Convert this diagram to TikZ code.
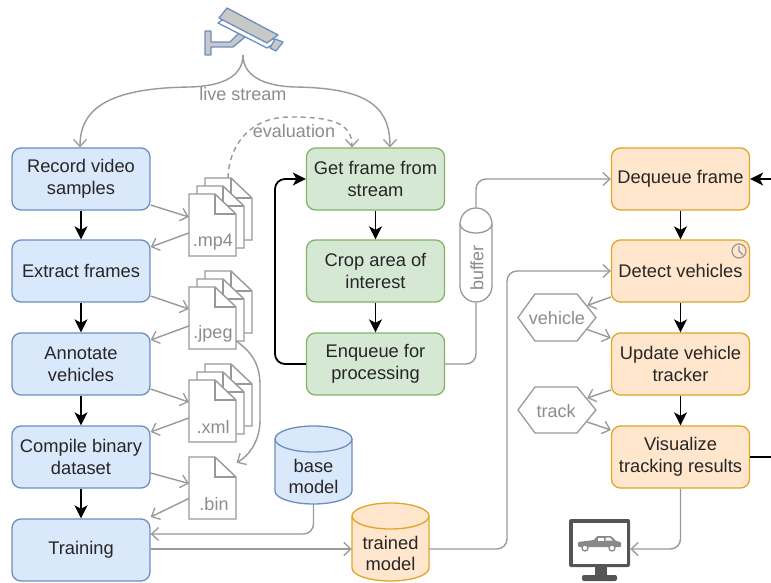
\documentclass[tikz,border=0pt]{standalone}
\usepackage{fontspec}
\setmainfont{Liberation Sans}
\usetikzlibrary{arrows.meta,calc}
\definecolor{bluef}{HTML}{DAE8FC}\definecolor{blued}{HTML}{6C8EBF}
\definecolor{greenf}{HTML}{D5E8D4}\definecolor{greend}{HTML}{82B366}
\definecolor{orangef}{HTML}{FFE6CC}\definecolor{oranged}{HTML}{E0A52A}
\definecolor{greyl}{HTML}{999999}\definecolor{greyt}{HTML}{8C8C8C}
\definecolor{inkt}{HTML}{262626}\definecolor{mon}{HTML}{555555}
\definecolor{camf}{HTML}{C8C8C8}
\tikzset{
  boxbase/.style={draw,rounded corners=9pt,line width=1.3pt,minimum width=138pt,minimum height=62pt,inner sep=0pt,align=center,text=inkt,font=\fontsize{18.3}{22}\selectfont},
  bluebox/.style={boxbase,fill=bluef,draw=blued},
  greenbox/.style={boxbase,fill=greenf,draw=greend},
  orangebox/.style={boxbase,fill=orangef,draw=oranged},
  greyarrow/.style={draw=greyl,line width=1.4pt,-{Straight Barb[length=7pt,width=13pt,line width=1.3pt]}},
  greyline/.style={draw=greyl,line width=1.4pt},
  blackarrow/.style={draw=black,line width=1.8pt,-{Stealth[length=13pt,width=13pt,inset=3.5pt]}},
  greylabel/.style={text=greyt,font=\fontsize{18}{20}\selectfont,inner sep=0pt},
  fileholder/.style={minimum width=47pt,minimum height=62pt,inner sep=0pt},
  filepath/.style={draw=greyl,fill=white,line width=1.4pt,line join=miter},
  hexpath/.style={draw=greyl,fill=white,line width=1.3pt},
  cylnode/.style={minimum width=77pt,minimum height=78pt,inner sep=0pt},
  cyltext/.style={align=center,text=inkt,inner sep=0pt,font=\fontsize{18.3}{21}\selectfont}
}
\newcommand\onefile[2]{%
  \draw[filepath,shift={(#1,#2)}] (0,0) -- (26,0) -- (47,20) -- (47,62) -- (0,62) -- cycle;
  \draw[filepath,fill=none,shift={(#1,#2)}] (26,0) -- (26,20) -- (47,20);}
\newcommand\stackfile[2]{%
  \onefile{\the\numexpr#1+16\relax}{\the\numexpr#2-16\relax}%
  \onefile{\the\numexpr#1+8\relax}{\the\numexpr#2-8\relax}%
  \onefile{#1}{#2}}
\newcommand\cylshape[6]{% x1 x2 y1 y2 fill draw
  \draw[fill=#5,draw=#6,line width=1.3pt] (#1,#3+13) arc[start angle=180,end angle=0,x radius=38.5pt,y radius=13pt]
     -- (#2,#4-13) arc[start angle=0,end angle=-180,x radius=38.5pt,y radius=13pt] -- cycle;
  \draw[draw=#6,line width=1.3pt] (#1,#3+13) arc[start angle=180,end angle=360,x radius=38.5pt,y radius=13pt];}
\begin{document}
\begin{tikzpicture}[x=1pt,y=-1pt]
\useasboundingbox (0,0) rectangle (771,583);
\fill[white] (0,0) rectangle (771,583);
% camera
\coordinate (cam) at (243,55);
\draw[fill=camf,draw=blued,line width=1.3pt,line join=round] (205,31) -- (211,31) -- (211,42) -- (230,42) -- (239,33) -- (245,37) -- (233,47) -- (211,47) -- (211,55) -- (205,55) -- cycle;
\draw[fill=white,draw=blued,line width=1.3pt,line join=round] (218,23) -- (267,48) -- (278,41) -- (270,38) -- (228,16) -- cycle;
\draw[fill=camf,draw=blued,line width=1.3pt,line join=round] (227,8) -- (278,35) -- (267,43) -- (219,18) -- cycle;
\draw[fill=camf,draw=blued,line width=1.3pt,line join=round] (275,39) -- (283,42) -- (276,51) -- (270,48) -- cycle;
% boxes
\node[bluebox] (rec) at (81,179) {Record video\\samples};
\node[bluebox] (ext) at (81,271) {\raisebox{-1pt}{Extract frames}};
\node[bluebox] (ann) at (81,364) {Annotate\\vehicles};
\node[bluebox] (com) at (81,457) {Compile binary\\dataset};
\node[bluebox] (tra) at (81,550) {\raisebox{-1pt}{Training}};
\node[greenbox] (get) at (375.5,179) {Get frame from\\stream};
\node[greenbox] (cro) at (375.5,271) {Crop area of\\interest};
\node[greenbox] (enq) at (375.5,364) {Enqueue for\\processing};
\node[orangebox] (deq) at (680.5,179) {\raisebox{-2pt}{Dequeue frame}};
\node[orangebox] (det) at (680.5,271) {\raisebox{-1pt}{Detect vehicles}};
\node[orangebox] (upd) at (680.5,364) {Update vehicle\\tracker};
\node[orangebox] (vis) at (680.5,457) {Visualize\\tracking results};
% clock
\draw[greyl,line width=1.2pt] (739,251) circle[radius=7pt];
\draw[greyl,line width=1.1pt] (739,246) -- (739,251) -- (743,255);
% files
\stackfile{189}{194}
\node[fileholder] (mp4) at (212.5,225) {};
\node[greylabel] at (213,242) {.mp4};
\stackfile{189}{287}
\node[fileholder] (jpg) at (212.5,318) {};
\node[greylabel] at (213,334) {.jpeg};
\stackfile{189}{380}
\node[fileholder] (xml) at (212.5,411) {};
\node[greylabel] at (213,427) {.xml};
\onefile{189}{457}
\node[fileholder] (bin) at (212.5,488) {};
\node[greylabel] at (214,504) {.bin};
% buffer
\node[draw=greyl,fill=white,line width=1.3pt,rounded corners=15.9pt,minimum width=32pt,minimum height=94pt,inner sep=0pt] (buf) at (476,255) {};
\draw[greyl,line width=1.3pt] (460,224) arc[start angle=180,end angle=360,x radius=16pt,y radius=9pt];
\node[greylabel,rotate=90] at (477,268) {buffer};
% cylinders
\cylshape{275}{352}{426}{504}{bluef}{blued}
\node[cylnode] (bas) at (313.5,465) {};
\node[cyltext] at (313.5,476) {base\\model};
\cylshape{352}{429}{503}{581}{orangef}{oranged}
\node[cylnode] (trn) at (390.5,542) {};
\node[cyltext] at (390.5,553) {trained\\model};
% hexagons
\node[minimum width=78pt,minimum height=47pt,inner sep=0pt] (veh) at (557,317.5) {};
\draw[hexpath] (518,317.5) -- (535,294) -- (577,294) -- (596,317.5) -- (577,341) -- (535,341) -- cycle;
\node[greylabel] at (557,318) {vehicle};
\node[minimum width=78pt,minimum height=47pt,inner sep=0pt] (trk) at (557,410) {};
\draw[hexpath] (518,410) -- (535,387) -- (577,387) -- (596,410) -- (577,433) -- (535,433) -- cycle;
\node[greylabel] at (556,411) {track};
% monitor
\node[minimum width=61pt,minimum height=48pt,inner sep=0pt] (scr) at (599.5,543) {};
\fill[mon,rounded corners=2pt] (569,519) rectangle (630,567);
\fill[white] (572.5,522.5) rectangle (626.5,563.5);
\fill[mon] (595,567) rectangle (607,576);
\fill[mon,rounded corners=2pt] (582,575) rectangle (617,581);
\fill[mon!70,rounded corners=1pt] (578,542) -- (594,540) -- (597,536) -- (611,536) -- (616,541) -- (621,542) -- (621,547) -- (578,547) -- cycle;
\fill[white] (598,537.5) rectangle (604,540.5);
\fill[white] (605.5,537.5) -- (610,537.5) -- (612.5,540.5) -- (605.5,540.5) -- cycle;
\draw[mon!70,fill=white,line width=1.3pt] (585,548) circle[radius=3pt];
\draw[mon!70,fill=white,line width=1.3pt] (612,548) circle[radius=3pt];
% labels
\node[greylabel] (live) at (243,94) {live stream};
\node[greylabel] (eval) at (294,131) {evaluation};
% grey connectors
\draw[greyarrow] (cam) .. controls (243,75) and (225,86) .. (190,87) .. controls (115,88) and (80,105) .. ([xshift=-1pt]rec.north);
\draw[greyarrow] (cam) .. controls (243,75) and (262,86) .. (295,87) .. controls (365,88) and (390,105) .. ([xshift=14.5pt]get.north);
\draw[greyarrow,dashed,dash pattern=on 5pt off 4pt] ([xshift=15.5pt,yshift=16pt]mp4.north) .. controls (229,145) and (250,117) .. (290,117) .. controls (330,117) and (352,122) .. ([xshift=-23.5pt]get.north);
\draw[greyarrow] ([yshift=-26pt]rec.east) -- ([yshift=8pt]mp4.west);
\draw[greyarrow] ([yshift=-8pt]mp4.west) -- ([yshift=24pt]ext.east);
\draw[greyarrow] ([yshift=-25pt]ext.east) -- ([yshift=9pt]jpg.west);
\draw[greyarrow] ([yshift=-8pt]jpg.west) -- ([yshift=24pt]ann.east);
\draw[greyarrow] ([yshift=-25pt]ann.east) -- ([yshift=9pt]xml.west);
\draw[greyarrow] ([yshift=-7pt]xml.west) -- ([yshift=25pt]com.east);
\draw[greyarrow] ([yshift=-16pt]com.east) -- ([yshift=4.5pt]bin.west);
\draw[greyarrow] ([yshift=-10.5pt]bin.west) -- ([yshift=33pt]tra.east);
\draw[greyarrow] ([yshift=-23pt]jpg.east) .. controls (252,352) and (260,365) .. (260,385) -- (260,420) .. controls (260,440) and (250,455) .. ([xshift=24pt,yshift=-6pt]bin.north);
\draw[greyarrow,rounded corners=10pt] (bas.south) -- (313.5,534) -- ([yshift=16pt]tra.east);
\draw[greyarrow] ([yshift=1pt]tra.east) -- ([yshift=-7pt]trn.west);
\draw[greyarrow,rounded corners=10pt] ([yshift=-7pt]trn.east) -- (507,549) -- (507,271) -- (det.west);
\draw[greyline,rounded corners=10pt] (enq.east) -- (476,364) -- (buf.south);
\draw[greyarrow,rounded corners=10pt] (buf.north) -- (476,179) -- (deq.west);
\draw[greyarrow] ([yshift=-26pt]det.west) -- ([xshift=-9pt,yshift=12pt]veh.east);
\draw[greyarrow] ([xshift=-9pt,yshift=-12pt]veh.east) -- ([yshift=26pt]upd.west);
\draw[greyarrow] ([yshift=-26pt]upd.west) -- ([xshift=-9pt,yshift=12pt]trk.east);
\draw[greyarrow] ([xshift=-9pt,yshift=-12pt]trk.east) -- ([yshift=27pt]vis.west);
\draw[greyarrow,rounded corners=10pt] (vis.south) -- (680.5,549) -- ([yshift=-6pt]scr.east);
% black connectors
\draw[blackarrow] (rec) -- (ext);
\draw[blackarrow] (ext) -- (ann);
\draw[blackarrow] (ann) -- (com);
\draw[blackarrow] (com) -- (tra);
\draw[blackarrow] (get) -- (cro);
\draw[blackarrow] (cro) -- (enq);
\draw[blackarrow] (deq) -- (det);
\draw[blackarrow] (det) -- (upd);
\draw[blackarrow] (upd) -- (vis);
\draw[blackarrow,rounded corners=10pt] (enq.west) -- (275,364) -- (275,179) -- (get.west);
\coordinate (inr) at (771,179);
\coordinate (outr) at (771,457);
\draw[blackarrow] (inr) -- (deq.east);
\draw[draw=black,line width=1.8pt] (vis.east) -- (outr);
\end{tikzpicture}
\end{document}
